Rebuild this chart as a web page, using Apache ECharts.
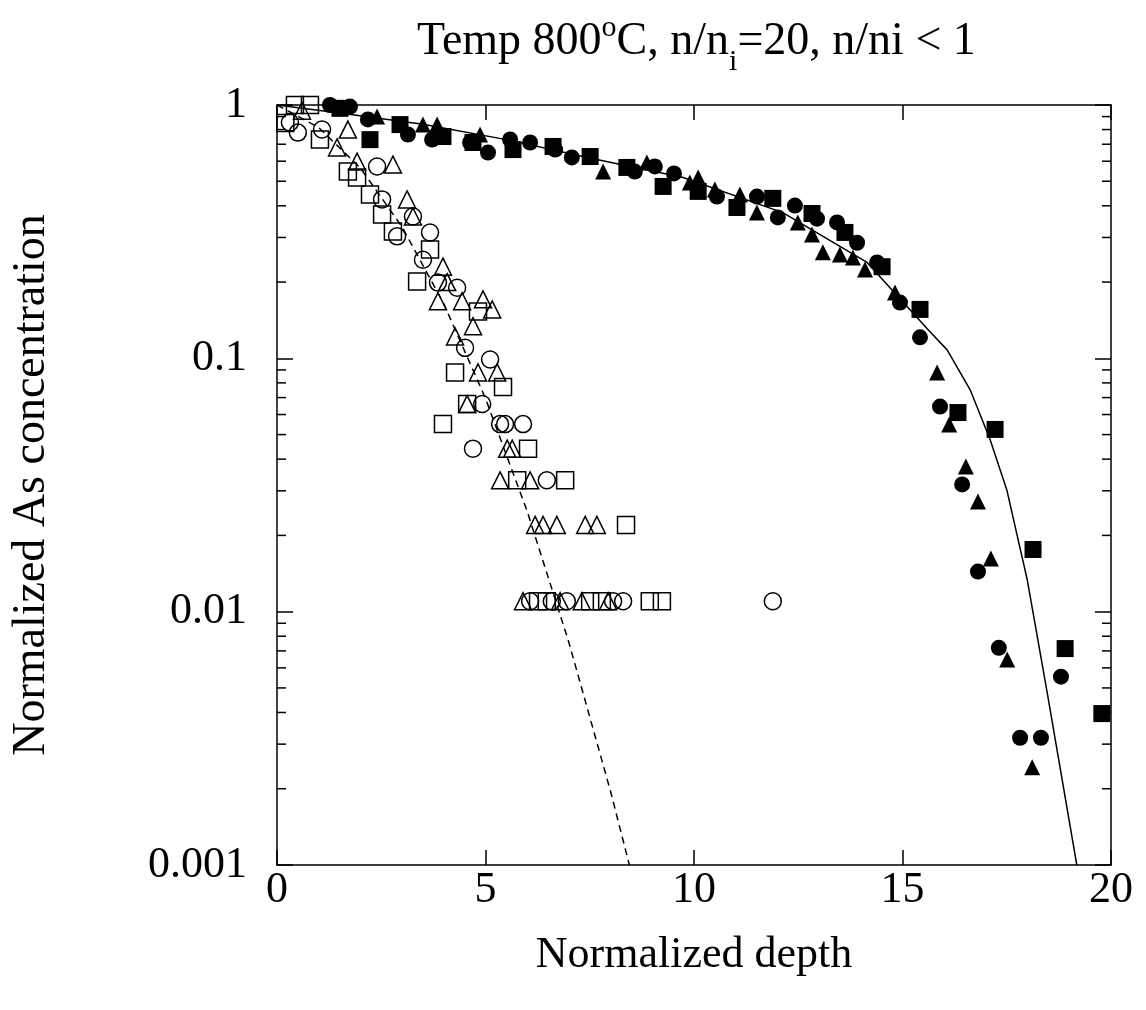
<!DOCTYPE html>
<html>
<head>
<meta charset="utf-8">
<script src="https://cdn.jsdelivr.net/npm/echarts@6/dist/echarts.min.js"></script>
<style>html,body{margin:0;padding:0;background:#fff}#c{width:1146px;height:1010px}</style>
</head>
<body>
<div id="c"></div>
<script>
// ---- data ----
const xTicks = [0, 5, 10, 15, 20];
const yTicks = [0.001, 0.01, 0.1, 1];

// upper (filled) data sets
const fcX = [1.27,1.75,2.18,3.14,3.72,4.63,5.06,5.59,6.07,6.67,7.07,8.58,9.06,9.52,10.55,11.51,12.01,12.42,12.95,13.43,13.91,14.39,14.94,15.42,15.90,16.43,16.81,17.31,17.82,18.32,18.80];
const fcY = [1.0,0.986,0.877,0.765,0.731,0.711,0.649,0.731,0.711,0.667,0.621,0.546,0.572,0.537,0.435,0.435,0.36,0.401,0.356,0.344,0.286,0.239,0.166,0.121,0.0645,0.0318,0.0144,0.0072,0.00318,0.00318,0.00554];

const fsX = [1.51,2.23,2.95,3.98,4.70,5.66,6.62,7.51,8.39,9.26,10.10,11.03,11.89,12.83,13.62,14.51,15.42,16.33,17.22,18.13,18.90,19.78];
const fsY = [0.97,0.73,0.837,0.751,0.711,0.667,0.686,0.626,0.567,0.477,0.456,0.394,0.428,0.373,0.314,0.23,0.156,0.0611,0.0524,0.0176,0.00715,0.00396];

const ftX = [2.4,3.5,3.84,4.87,7.82,8.87,9.90,10.10,10.50,11.10,11.51,12.49,12.83,13.09,13.50,13.81,14.10,14.82,15.83,16.12,16.52,16.81,17.12,17.51,18.11];
const ftY = [0.9,0.837,0.837,0.765,0.546,0.593,0.494,0.517,0.464,0.443,0.376,0.344,0.308,0.262,0.257,0.25,0.224,0.182,0.0879,0.0548,0.0374,0.0272,0.0162,0.00647,0.00243];

// lower (open) data sets
const ocX = [0.31,0.5,1.08,2.40,2.52,2.88,3.26,3.67,3.5,3.86,4.32,4.51,5.11,4.92,5.35,5.47,5.9,4.70,6.47,6.07,6.59,6.95,8.06,8.30,11.89];
const ocY = [0.853,0.778,0.80,0.572,0.424,0.303,0.363,0.314,0.245,0.199,0.19,0.11,0.099,0.066,0.055,0.055,0.055,0.044,0.033,0.011,0.011,0.011,0.011,0.011,0.011];

const osX = [0.43,0.79,0.2,1.03,1.70,1.92,2.23,2.52,2.78,3.67,3.36,4.82,4.27,5.42,4.56,3.98,6.02,5.76,6.91,8.37,6.26,6.47,7.51,7.79,8.94,9.23];
const osY = [1.0,1.0,0.85,0.73,0.546,0.517,0.443,0.37,0.317,0.269,0.201,0.153,0.088,0.077,0.066,0.055,0.044,0.033,0.033,0.022,0.011,0.011,0.011,0.011,0.011,0.011];

const otX = [0.6,1.44,1.70,1.92,2.78,3.12,3.26,3.98,4.08,3.86,4.44,4.94,5.16,4.70,4.27,4.82,5.28,4.56,5.52,5.64,5.35,6.07,6.19,6.38,6.71,7.39,7.67,5.9,6.79,7.31,7.94];
const otY = [0.95,0.68,0.80,0.598,0.582,0.424,0.363,0.23,0.2,0.168,0.168,0.171,0.156,0.134,0.122,0.088,0.088,0.066,0.044,0.044,0.033,0.033,0.022,0.022,0.022,0.022,0.022,0.011,0.011,0.011,0.011];

// fitted curves
const fitX = [0,1.5,3.5,5.5,7.67,9.74,12.13,14.15,15.61,16.07,16.62,17.1,17.5,17.99,18.47,19.18];
const fitY = [1.0,0.93,0.84,0.73,0.609,0.517,0.376,0.239,0.130,0.108,0.0753,0.0478,0.0303,0.0134,0.00479,0.001];
const dashX = [0,1,2,3,4,5,6,7,8,8.45];
const dashY = [1.0,0.815,0.564,0.330,0.164,0.0695,0.0249,0.00756,0.00195,0.001];

// minor tick values on log axis
const minorTicks = [];
[0.001,0.01,0.1].forEach(d => { for (let m = 2; m <= 9; m++) minorTicks.push(+(m*d).toPrecision(3)); });

const FONT = 'Liberation Serif';
const zip = (a, b) => a.map((v, i) => [v, b[i]]);

const chart = echarts.init(document.getElementById('c'), null, {renderer: 'canvas'});

const axisLine = {show: true, onZero: false, lineStyle: {color: '#000', width: 1.5}};
const filled = (name, sym, size, xs, ys) => ({
  name, type: 'scatter', symbol: sym, symbolSize: size, data: zip(xs, ys),
  itemStyle: {color: '#000', opacity: 1}, z: 4, silent: true
});
const open = (name, sym, size, xs, ys) => ({
  name, type: 'scatter', symbol: sym, symbolSize: size, data: zip(xs, ys),
  itemStyle: {color: 'rgba(0,0,0,0)', borderColor: '#000', borderWidth: 1.5, opacity: 1}, z: 4, silent: true
});
const tStyle = {fontFamily: FONT, color: '#000', fontWeight: 'normal'};

chart.setOption({
  animation: false,
  backgroundColor: '#fff',
  title: {
    text: '{a|Temp 800}{sup|o}{a|C, n/n}{sub|i}{a|=20, n/ni < 1}',
    left: 412, top: 12,
    textStyle: {
      fontWeight: 'normal',
      rich: {
        a: Object.assign({fontSize: 46, verticalAlign: 'bottom', lineHeight: 60, padding: [0, 0, 12, 0]}, tStyle),
        sup: Object.assign({fontSize: 30, verticalAlign: 'bottom', lineHeight: 60, padding: [0, 0, 34, 0]}, tStyle),
        sub: Object.assign({fontSize: 30, verticalAlign: 'bottom', lineHeight: 60, padding: [0, 0, 0, 0]}, tStyle)
      }
    }
  },
  grid: {left: 277, right: 35, top: 105, bottom: 145, containLabel: false, show: false},
  xAxis: [{
    type: 'value', min: 0, max: 20, interval: 5, position: 'bottom',
    axisLine, axisTick: {show: true, inside: true, length: 15, lineStyle: {color: '#000', width: 1.5}},
    splitLine: {show: false},
    axisLabel: {fontFamily: FONT, fontSize: 44, color: '#000', margin: 3},
    name: 'Normalized depth', nameLocation: 'middle', nameGap: 68,
    nameTextStyle: {fontFamily: FONT, fontSize: 44, color: '#000'}
  }, {
    type: 'value', min: 0, max: 20, interval: 5, position: 'top',
    axisLine, axisTick: {show: true, inside: true, length: 15, lineStyle: {color: '#000', width: 1.5}},
    splitLine: {show: false}, axisLabel: {show: false}
  }],
  yAxis: [{
    type: 'log', logBase: 10, min: 0.001, max: 1, position: 'left',
    axisLine, axisTick: {show: true, inside: true, length: 16, lineStyle: {color: '#000', width: 1.5}},
    splitLine: {show: false}, minorTick: {show: false},
    axisLabel: {fontFamily: FONT, fontSize: 44, color: '#000', margin: 30,
      formatter: v => { const t = yTicks.find(q => Math.abs(Math.log10(q) - Math.log10(v)) < 1e-6); return t === undefined ? '' : String(t); }},
    name: 'Normalized As concentration', nameLocation: 'middle', nameRotate: 90, nameGap: 222,
    nameTextStyle: {fontFamily: FONT, fontSize: 46, color: '#000'}
  }, {
    type: 'log', logBase: 10, min: 0.001, max: 1, position: 'right',
    axisLine, axisTick: {show: true, inside: true, length: 16, lineStyle: {color: '#000', width: 1.5}},
    splitLine: {show: false}, axisLabel: {show: false}
  }],
  series: [
    {
      type: 'custom', name: 'minor ticks', silent: true, clip: false, z: 3,
      data: minorTicks.map(v => [0, v]),
      renderItem: (params, api) => {
        const v = api.value(1);
        const pl = api.coord([0, v]);
        const pr = api.coord([20, v]);
        const st = {stroke: '#000', lineWidth: 1.5};
        return {type: 'group', children: [
          {type: 'line', shape: {x1: pl[0], y1: pl[1], x2: pl[0] + 9, y2: pl[1]}, style: st},
          {type: 'line', shape: {x1: pr[0], y1: pr[1], x2: pr[0] - 9, y2: pr[1]}, style: st}
        ]};
      }
    },
    {type: 'line', name: 'fit upper', data: zip(fitX, fitY), showSymbol: false, symbol: 'none',
      lineStyle: {color: '#000', width: 1.5}, z: 5, silent: true},
    {type: 'line', name: 'fit lower', data: zip(dashX, dashY), showSymbol: false, symbol: 'none',
      lineStyle: {color: '#000', width: 1.5, type: [7, 5]}, z: 5, silent: true},
    filled('filled circle', 'circle', 16, fcX, fcY),
    filled('filled square', 'rect', 17, fsX, fsY),
    filled('filled triangle', 'triangle', 16, ftX, ftY),
    open('open circle', 'circle', 17, ocX, ocY),
    open('open square', 'rect', 17, osX, osY),
    open('open triangle', 'triangle', 17, otX, otY)
  ]
});
</script>
</body>
</html>
